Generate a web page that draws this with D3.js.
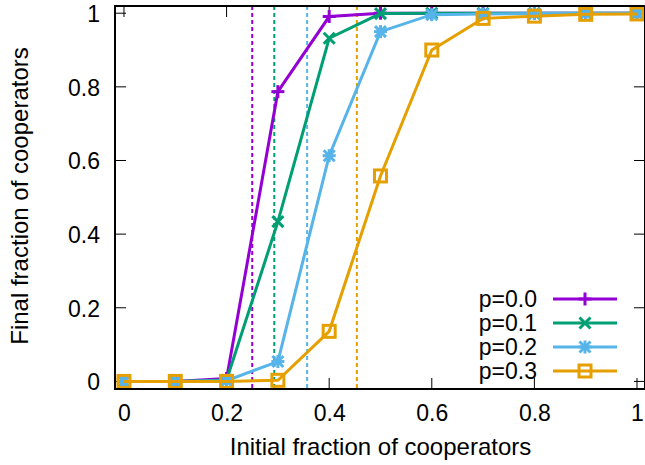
<!DOCTYPE html>
<html><head><meta charset="utf-8">
<script src="https://cdn.jsdelivr.net/npm/d3@7"></script>
<style>body{margin:0;background:#fff}svg{display:block}text{font-family:"Liberation Sans",Arial,sans-serif;fill:#000}</style>
</head><body><svg id="c" width="645" height="465"></svg>
<script>
const xs = [0, 0.1, 0.2, 0.3, 0.4, 0.5, 0.6, 0.7, 0.8, 0.9, 1.0];
const p00 = [0, 0, 0.008, 0.787, 0.991, 1.0, 1.0, 1.0, 1.0, 1.0, 1.0];
const p01 = [0, 0, 0.004, 0.434, 0.932, 0.999, 1.0, 1.0, 1.0, 1.0, 1.0];
const p02 = [0, 0, 0.002, 0.054, 0.613, 0.95, 0.996, 0.998, 0.999, 1.0, 1.0];
const p03 = [0, 0, 0, 0.003, 0.136, 0.558, 0.9, 0.986, 0.992, 0.997, 0.998];
const seriesNames = ["p=0.0", "p=0.1", "p=0.2", "p=0.3"];
const seriesColors = ["#9400d3", "#009e73", "#56b4e9", "#e69f00"];
const seriesMarkers = ["plus", "cross", "star", "square"];
const thresholds = [0.25, 0.293, 0.357, 0.454];
const xTicks = [0, 0.2, 0.4, 0.6, 0.8, 1];
const yTicks = [0, 0.2, 0.4, 0.6, 0.8, 1];
const xTitle = "Initial fraction of cooperators";
const yTitle = "Final fraction of cooperators";

const allSeries = [p00, p01, p02, p03];
const svg = d3.select("#c");
const L = 115, R = 645, T = 6, B = 389;
const x = d3.scaleLinear().domain([-0.0175, 1.0156]).range([L, R]);
const y = d3.scaleLinear().domain([-0.0206, 1.0196]).range([B, T]);
const tickLen = 11;

// threshold dotted lines
thresholds.forEach((t, i) => {
  svg.append("line").attr("x1", x(t)).attr("x2", x(t)).attr("y1", T).attr("y2", B)
    .attr("stroke", seriesColors[i]).attr("stroke-width", 2).attr("stroke-dasharray", "4,3");
});

// ticks (inward, mirrored)
const g = svg.append("g").attr("stroke", "#000").attr("stroke-width", 1);
xTicks.forEach(v => {
  g.append("line").attr("x1", x(v)).attr("x2", x(v)).attr("y1", B).attr("y2", B - tickLen);
  g.append("line").attr("x1", x(v)).attr("x2", x(v)).attr("y1", T).attr("y2", T + tickLen);
});
yTicks.forEach(v => {
  g.append("line").attr("x1", L).attr("x2", L + tickLen).attr("y1", y(v)).attr("y2", y(v));
  g.append("line").attr("x1", R).attr("x2", R - tickLen).attr("y1", y(v)).attr("y2", y(v));
});

// axis labels via d3 axes (text only)
const xAxis = d3.axisBottom(x).tickValues(xTicks).tickFormat(d3.format("~g")).tickSize(0).tickPadding(0);
const xa = svg.append("g").attr("transform", `translate(0,${B})`).call(xAxis);
xa.select(".domain").remove();
xa.selectAll("text").attr("font-size", 23).attr("dy", null).attr("y", 32)
  .style("font-family", '"Liberation Sans",Arial,sans-serif').attr("fill", "#000");
const yAxis = d3.axisLeft(y).tickValues(yTicks).tickFormat(d3.format("~g")).tickSize(0).tickPadding(0);
const ya = svg.append("g").attr("transform", `translate(0,0)`).call(yAxis);
ya.select(".domain").remove();
ya.selectAll("text").attr("font-size", 23).attr("dy", null).attr("x", 100).attr("y", 8.3)
  .style("font-family", '"Liberation Sans",Arial,sans-serif').attr("fill", "#000");

// titles
svg.append("text").attr("x", 380.5).attr("y", 454.5).attr("text-anchor", "middle").attr("font-size", 24).text(xTitle);
svg.append("text").attr("transform", "translate(27.5,196) rotate(-90)").attr("text-anchor", "middle").attr("font-size", 24).text(yTitle);

function marker(sel, type, cx, cy, color) {
  const s = 6.5;
  const gg = sel.append("g").attr("stroke", color).attr("stroke-width", 3).attr("fill", "none");
  if (type === "plus" || type === "star") {
    gg.append("line").attr("x1", cx - s).attr("x2", cx + s).attr("y1", cy).attr("y2", cy);
    gg.append("line").attr("x1", cx).attr("x2", cx).attr("y1", cy - s).attr("y2", cy + s);
  }
  if (type === "cross" || type === "star") {
    const d = 5.5;
    gg.append("line").attr("x1", cx - d).attr("x2", cx + d).attr("y1", cy - d).attr("y2", cy + d);
    gg.append("line").attr("x1", cx - d).attr("x2", cx + d).attr("y1", cy + d).attr("y2", cy - d);
  }
  if (type === "square") {
    gg.append("rect").attr("x", cx - 6).attr("y", cy - 6).attr("width", 12).attr("height", 12);
  }
}

const line = d3.line().x((d, i) => x(xs[i])).y(d => y(d));
allSeries.forEach((vals, i) => {
  svg.append("path").datum(vals).attr("d", line).attr("fill", "none")
    .attr("stroke", seriesColors[i]).attr("stroke-width", 3).attr("stroke-linejoin", "miter");
  vals.forEach((v, j) => marker(svg, seriesMarkers[i], x(xs[j]), y(v), seriesColors[i]));
});

// legend
const legY0 = 299, legDy = 24;
seriesNames.forEach((n, i) => {
  const yy = legY0 + i * legDy;
  svg.append("text").attr("x", 537).attr("y", yy + 8.3).attr("text-anchor", "end").attr("font-size", 23).text(n);
  svg.append("line").attr("x1", 553).attr("x2", 617).attr("y1", yy).attr("y2", yy)
    .attr("stroke", seriesColors[i]).attr("stroke-width", 3);
  marker(svg, seriesMarkers[i], 585, yy, seriesColors[i]);
});

// border
svg.append("rect").attr("x", L).attr("y", T).attr("width", R - L).attr("height", B - T)
  .attr("fill", "none").attr("stroke", "#000").attr("stroke-width", 2);
</script></body></html>
